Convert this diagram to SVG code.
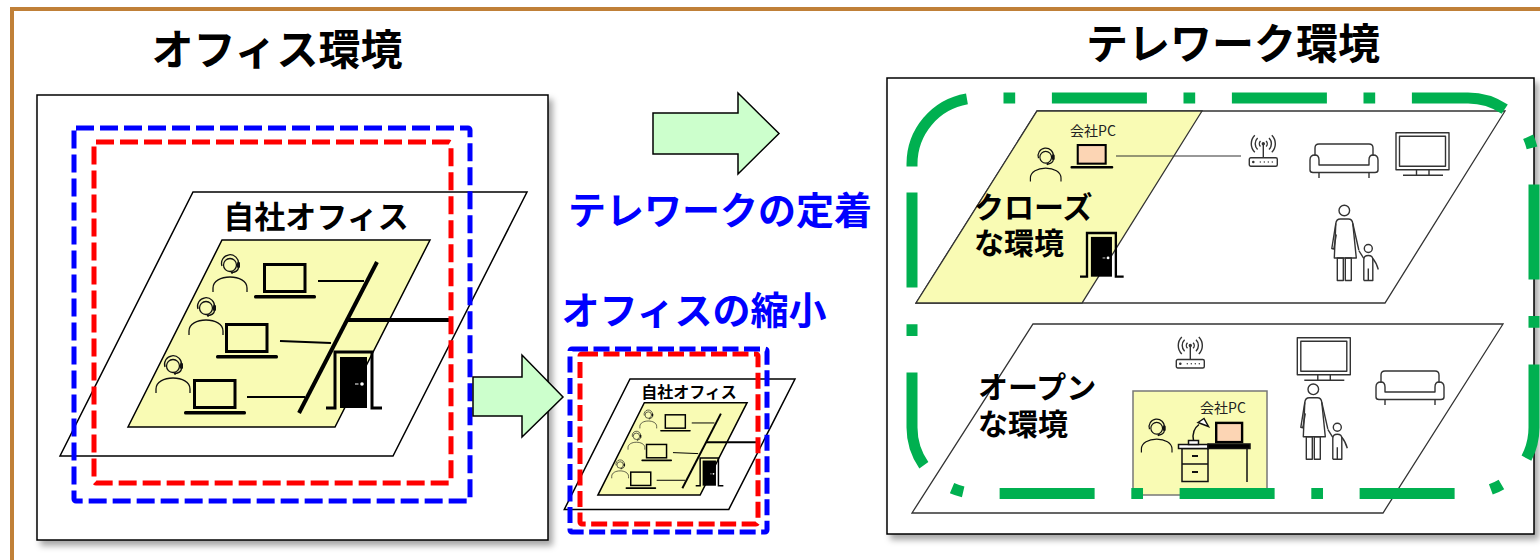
<svg xmlns="http://www.w3.org/2000/svg" width="1540" height="560" viewBox="0 0 1540 560">
<defs>
<style>
.jp{font-family:"Noto Sans CJK JP","Noto Sans",sans-serif;}
.title{font-size:42px;font-weight:700;fill:#000;text-anchor:middle;}
.blueLabel{font-size:38px;font-weight:700;fill:#0000FF;text-anchor:middle;}
.roomLabel{font-size:30px;font-weight:700;fill:#000;}
.pcLabel{font-size:14px;fill:#222;text-anchor:middle;}
.panel{fill:#fff;stroke:#000;stroke-width:1.5;filter:url(#shadow);}
.plane{fill:#fff;stroke:#000;stroke-width:1.5;vector-effect:non-scaling-stroke;}
.desk{fill:#F9FBB4;stroke:#000;stroke-width:1.5;vector-effect:non-scaling-stroke;}
.icon{fill:none;stroke:#111;stroke-width:1.3;}
.hicon{fill:none;stroke:#333;stroke-width:1.4;stroke-linejoin:round;}
.room{fill:#fff;stroke:#333;stroke-width:1.3;}
.roomDesk{fill:#F9FBB4;stroke:#333;stroke-width:1.3;}
.arrow{fill:#CCFFCC;stroke:#000;stroke-width:1.5;stroke-linejoin:miter;}
.blueBig{fill:none;stroke:#0000FF;stroke-width:5;stroke-dasharray:18 6;}
.redBig{fill:none;stroke:#FF0000;stroke-width:5;stroke-dasharray:18 6;}
.blueSmall{fill:none;stroke:#0000FF;stroke-width:5;stroke-dasharray:16 5.5;}
.redSmall{fill:none;stroke:#FF0000;stroke-width:5;stroke-dasharray:16 5.5;}
.boundary{fill:none;stroke:#00B050;stroke-width:11;stroke-dasharray:95 36.6 11.7 36.7;}
</style>
<filter id="shadow" x="-5%" y="-5%" width="115%" height="115%">
<feDropShadow dx="4" dy="5" stdDeviation="3" flood-color="#000" flood-opacity="0.35"/>
</filter>

<!-- operator with headset, head centred on origin -->
<g id="operator" class="icon">
<circle cx="0" cy="0" r="6.5"/>
<path d="M-8,1 A8.5,8.5 0 1 1 8.5,-1"/>
<rect x="7" y="-3" width="3" height="6" rx="1.2" fill="#111" stroke="none"/>
<path d="M8.5,3 Q7.5,7 2,7.5"/>
<circle cx="2" cy="7.5" r="1.2" fill="#111" stroke="none"/>
<path d="M-17,27 V23 C-17,16 -9,12 0,12 C9,12 17,16 17,23 V27"/>
</g>

<!-- laptop, origin at top-left of screen; screen fill comes from the use element -->
<g id="laptop">
<rect x="1.5" y="1.5" width="40.5" height="27" stroke="#000" stroke-width="3"/>
<rect x="-9" y="32" width="62" height="3.5" rx="1.5" fill="#000"/>
</g>

<!-- door with frame, origin at top-left of frame -->
<g id="door">
<path d="M-9,56 H0 V0 H37 V56 H47" fill="none" stroke="#000" stroke-width="3"/>
<rect x="5" y="5" width="27" height="51" fill="#000"/>
<circle cx="27" cy="32" r="1.8" fill="#fff"/>
<line x1="20" y1="32" x2="23.5" y2="32" stroke="#fff" stroke-width="1"/>
</g>

<!-- wifi router, origin at top-left of box -->
<g id="router" class="hicon">
<rect x="0" y="0" width="28" height="8.5" rx="1.5"/>
<line x1="14" y1="0" x2="14" y2="-13"/>
<circle cx="14" cy="-14" r="1" fill="#333"/>
<path d="M11.2,-16.8 A4,4 0 0 0 11.2,-11.2 M16.8,-16.8 A4,4 0 0 1 16.8,-11.2"/>
<path d="M8.3,-19.7 A8,8 0 0 0 8.3,-8.3 M19.7,-19.7 A8,8 0 0 1 19.7,-8.3"/>
<path d="M5.5,-22.5 A12,12 0 0 0 5.5,-5.5 M22.5,-22.5 A12,12 0 0 1 22.5,-5.5"/>
<circle cx="4" cy="4.25" r="1.3" fill="#333" stroke="none"/>
<circle cx="11" cy="4.25" r="0.7" fill="#333" stroke="none"/>
<circle cx="15" cy="4.25" r="0.7" fill="#333" stroke="none"/>
<circle cx="19" cy="4.25" r="0.7" fill="#333" stroke="none"/>
<circle cx="23" cy="4.25" r="0.7" fill="#333" stroke="none"/>
</g>

<!-- sofa, origin at top-left -->
<g id="sofa" class="hicon">
<path d="M5,12 V4 Q5,0 9,0 H59 Q63,0 63,4 V12"/>
<path d="M5,11 Q0,11 0,16 V26 Q0,28.5 3,28.5 H65 Q68,28.5 68,26 V16 Q68,11 63,11 Q59,11 59,16 V21 H9 V16 Q9,11 5,11 Z"/>
<path d="M9,28.5 V34 M59,28.5 V34"/>
</g>

<!-- television, origin at top-left -->
<g id="tv" class="hicon">
<rect x="0" y="0" width="53" height="37"/>
<rect x="3.5" y="3.5" width="46" height="30"/>
<path d="M20.5,37 V42.5 M33,37 V42.5 M7,42.5 H47"/>
</g>

<!-- mother and child, origin at mother's head centre -->
<g id="family" class="hicon">
<circle cx="0" cy="0" r="5.3"/>
<path d="M-4,8.5 H4 Q8,8.5 8.5,13 L12,47.5 H-10 L-8.5,13 Q-8,8.5 -4,8.5 Z"/>
<path d="M-8.5,13 L-12.5,38 L-10.5,38.5 L-8,24"/>
<path d="M8.5,13 L14.5,39.5"/>
<rect x="-7" y="47.5" width="6" height="22.5"/>
<rect x="1" y="47.5" width="6" height="22.5"/>
<circle cx="24" cy="38" r="4"/>
<path d="M19.5,70 V49 Q19.5,45 24,45 Q28.5,45 28.5,49 V70 H19.5 M24,58 V70"/>
<path d="M28.5,48 Q32,52 34,59"/>
<path d="M19.5,48 L14.5,40"/>
</g>

<!-- office floor: building plane, work area, staff, network and entrance -->
<g id="officeFloor">
<polygon class="plane" points="193,192 527,192 393,456 60,456"/>
<polygon class="desk" points="222,240 430,240 335,427 128,427"/>
<use href="#operator" x="230" y="265"/>
<use href="#operator" x="206" y="308"/>
<use href="#operator" x="173" y="366"/>
<use href="#laptop" x="263" y="263" fill="none"/>
<use href="#laptop" x="225" y="323" fill="none"/>
<use href="#laptop" x="193" y="379" fill="none"/>
<g stroke="#000">
<line x1="318" y1="281" x2="364" y2="281" stroke-width="2"/>
<line x1="280" y1="341" x2="331" y2="343" stroke-width="2"/>
<line x1="247" y1="397" x2="305" y2="397" stroke-width="2"/>
<line x1="377" y1="262" x2="299" y2="413" stroke-width="4"/>
<line x1="347" y1="320" x2="452" y2="320" stroke-width="4"/>
</g>
<use href="#door" x="335" y="352"/>
</g>
</defs>

<rect width="1540" height="560" fill="#fff"/>
<path d="M12,560 V9 H1540" fill="none" stroke="#C08038" stroke-width="4"/>

<!-- current office -->
<g id="office-title">
<text class="jp title" x="277" y="65">オフィス環境</text>
</g>
<g id="office-env">
<rect class="panel" x="37" y="95" width="511" height="445"/>
<use href="#officeFloor"/>
<text class="jp" x="316" y="228" font-size="31" font-weight="700" text-anchor="middle">自社オフィス</text>
<rect class="redBig" x="94" y="142" width="357" height="341" rx="2"/>
<rect class="blueBig" x="74" y="128" width="396" height="373" rx="2"/>
</g>

<!-- reduced office -->
<g id="office-reduced">
<use href="#officeFloor" transform="translate(630,379) scale(0.494) translate(-193,-192)"/>
<text class="jp" x="689" y="398" font-size="16" font-weight="700" text-anchor="middle">自社オフィス</text>
<rect class="redSmall" x="580" y="354" width="178" height="170" rx="2"/>
<rect class="blueSmall" x="570" y="349" width="197" height="183" rx="2"/>
</g>

<g id="label-settle">
<text class="jp blueLabel" x="720" y="224">テレワークの定着</text>
</g>
<g id="label-shrink">
<text class="jp blueLabel" x="694" y="324">オフィスの縮小</text>
</g>

<!-- telework environment -->
<g id="telework-title">
<text class="jp title" x="1233" y="59">テレワーク環境</text>
</g>
<g id="telework-env">
<rect class="panel" x="887" y="78" width="647" height="456"/>

<g id="closed-room">
<polygon class="room" points="1037,111 1505,111 1385,303 916,303"/>
<polygon class="roomDesk" points="1037,111 1202,111 1082,303 916,303"/>
<text class="jp pcLabel" x="1093" y="136">会社PC</text>
<use href="#operator" transform="translate(1045.7,157.3) scale(0.9)"/>
<use href="#laptop" transform="translate(1076.7,144) scale(0.69)" fill="#FCD5B4"/>
<line x1="1116" y1="156" x2="1241" y2="156" stroke="#333" stroke-width="1.2"/>
<use href="#router" x="1249.3" y="157.7"/>
<use href="#sofa" x="1310" y="144"/>
<use href="#tv" x="1396" y="132.7"/>
<use href="#family" x="1344.3" y="210.5"/>
<use href="#door" transform="translate(1087,233) scale(0.78)"/>
<text class="jp roomLabel"><tspan x="974" y="218">クローズ</tspan><tspan x="974" y="254">な環境</tspan></text>
</g>

<g id="open-room">
<polygon class="room" points="1033,324 1503,324 1383,513 912,513"/>
<use href="#router" x="1176.3" y="359.5"/>
<use href="#tv" x="1297.3" y="337.7"/>
<use href="#sofa" x="1376" y="371"/>
<use href="#family" x="1313.3" y="389.3"/>
<rect x="1133" y="391" width="134" height="104" fill="#F9FBB4" stroke="#777" stroke-width="1.5"/>
<text class="jp pcLabel" x="1223" y="413">会社PC</text>
<use href="#operator" transform="translate(1156.7,428.3) scale(0.9)"/>
<rect x="1216.2" y="422.9" width="25.9" height="19.2" fill="#FCD5B4" stroke="#000" stroke-width="2.4"/>
<g fill="none" stroke="#111" stroke-width="1.5">
<rect x="1182" y="448.5" width="26" height="33"/>
<line x1="1182" y1="464" x2="1208" y2="464"/>
<line x1="1192" y1="456" x2="1198" y2="456" stroke-width="2"/>
<line x1="1192" y1="472" x2="1198" y2="472" stroke-width="2"/>
<line x1="1247" y1="448.5" x2="1247" y2="482"/>
<rect x="1178.5" y="444.5" width="29.5" height="4" fill="#fff"/>
<rect x="1208" y="444" width="42" height="4.5" fill="#000"/>
<rect x="1188.5" y="440.5" width="10" height="4" fill="#fff"/>
<path d="M1193.5,440.5 Q1191.5,430 1199,424.5"/>
<path d="M1198,422.5 L1204,418.5 L1208.5,426.5 Z" fill="#fff"/>
</g>
<text class="jp roomLabel"><tspan x="978" y="398">オープン</tspan><tspan x="978" y="435">な環境</tspan></text>
</g>

<g id="home-boundary">
<path class="boundary" d="M912,166.6 V164 A66,66 0 0 1 978,98 H1468 A66,66 0 0 1 1534,164 V427.5 A66,66 0 0 1 1468,493.5 H978 A66,66 0 0 1 912,427.5 Z"/>
</g>
</g>

<!-- transition arrows -->
<g id="connectors">
<polygon class="arrow" points="653,113 738,113 738,93 779,133.5 738,174 738,154 653,154"/>
<polygon class="arrow" points="473,377 522,377 522,355 563,397 522,437 522,416 473,416"/>
</g>
</svg>
